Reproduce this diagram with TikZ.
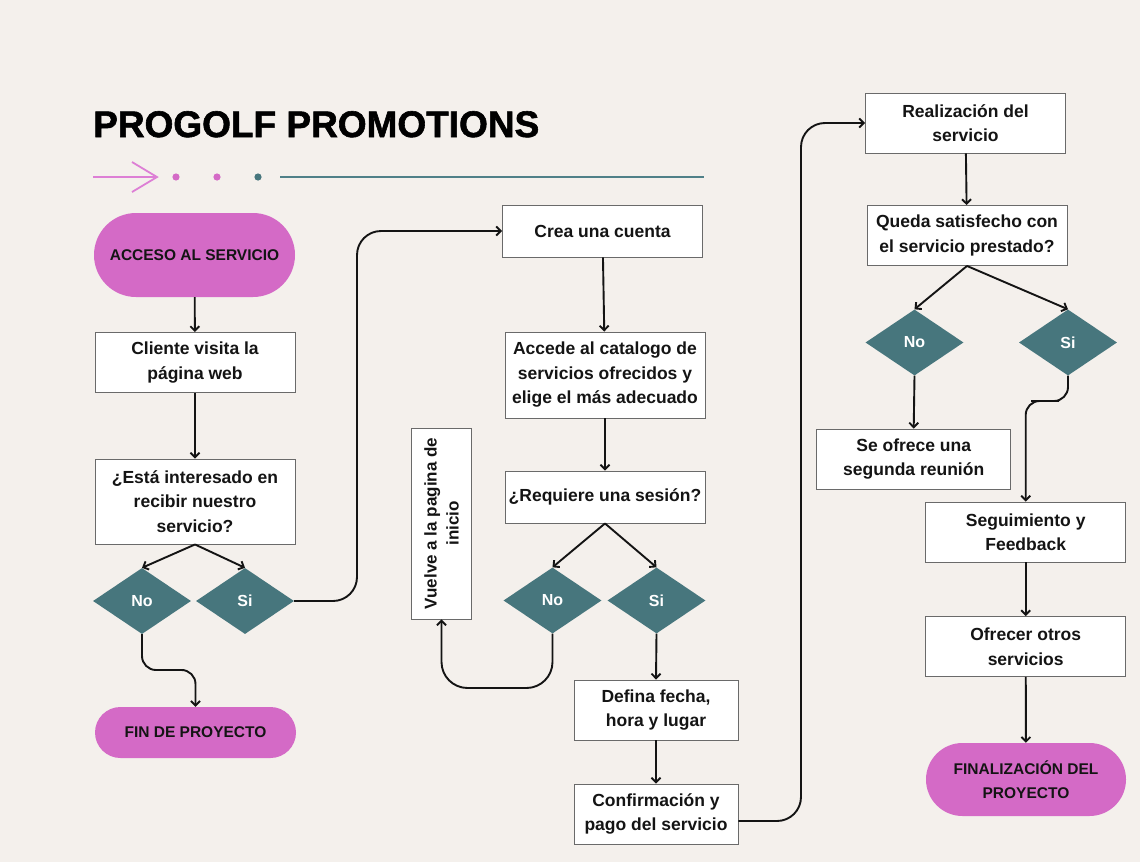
\documentclass[tikz,border=0pt]{standalone}
\usepackage{fontspec}
\setmainfont{Liberation Sans}
\newfontfamily\heavyfont{Liberation Sans}[UprightFont={* Bold},FakeBold=1.6]
\usetikzlibrary{shapes.geometric,shapes.misc,arrows.meta}
\definecolor{bg}{HTML}{F4F0EC}
\definecolor{pinkfill}{HTML}{D46AC6}
\definecolor{tealfill}{HTML}{47767D}
\definecolor{tealline}{HTML}{4F8088}
\definecolor{pinkline}{HTML}{DD7FD5}
\definecolor{boxedge}{HTML}{6A6A6A}
\definecolor{ink}{HTML}{141414}
\begin{document}
\begin{tikzpicture}[x=1pt,y=-1pt,
  stepbox/.style={draw=boxedge,line width=0.9pt,fill=white,inner sep=0pt,align=center,
    text=ink,font=\bfseries\fontsize{17.5}{24.5}\selectfont},
  pill/.style={rounded rectangle,fill=pinkfill,inner sep=0pt,align=center,
    text=ink,font=\bfseries\fontsize{15.5}{24}\selectfont},
  choice/.style={diamond,fill=tealfill,inner sep=0pt,minimum width=98pt,minimum height=66pt,
    text=white,font=\bfseries\fontsize{16}{16}\selectfont},
  conn/.style={draw=ink,line width=1.9pt,-{Straight Barb[length=4.5pt,width=9pt]}},
  deco/.style={line width=1.8pt}]
\useasboundingbox (0,0) rectangle (1140,862);
\fill[bg] (0,0) rectangle (1140,862);

% title and decoration
\node[anchor=base west,inner sep=0pt,text=black,font=\heavyfont\fontsize{37}{37}\selectfont] (title) at (93,137) {PROGOLF PROMOTIONS};
\coordinate (a0) at (93,177);
\coordinate (a1) at (157,177);
\coordinate (a2) at (132,162);
\coordinate (a3) at (132,192);
\draw[deco,draw=pinkline] (a0) -- (a1);
\draw[deco,draw=pinkline,line join=miter] (a2) -- (a1) -- (a3);
\fill[pinkfill] (176,177) circle (3.6pt);
\fill[pinkfill] (217,177) circle (3.6pt);
\fill[tealfill] (258,177) circle (3.6pt);
\coordinate (l0) at (280,177);
\coordinate (l1) at (704,177);
\draw[deco,draw=tealline] (l0) -- (l1);

% left column
\node[pill,minimum width=201pt,minimum height=84pt] (acc) at (194.5,255) {ACCESO AL SERVICIO};
\node[stepbox,minimum width=200pt,minimum height=60pt] (cli) at (195,362.5) {Cliente visita la\\página web};
\node[stepbox,minimum width=200pt,minimum height=85pt] (est) at (195,501.5) {¿Está interesado en\\recibir nuestro\\servicio?};
\node[choice] (no1) at (142,601) {No};
\node[choice] (si1) at (245,601) {Si};
\node[pill,minimum width=201pt,minimum height=51pt] (fin) at (195.5,732.5) {FIN DE PROYECTO};

% middle column
\node[stepbox,minimum width=200pt,minimum height=52pt] (crea) at (602.5,231) {Crea una cuenta};
\node[stepbox,minimum width=200pt,minimum height=86pt] (cat) at (605,375) {Accede al catalogo de\\servicios ofrecidos y\\elige el más adecuado};
\node[stepbox,minimum width=200pt,minimum height=52pt] (ses) at (605,497) {¿Requiere una sesión?};
\node[choice] (no2) at (552.5,600.5) {No};
\node[choice] (si2) at (656.5,600.5) {Si};
\node[stepbox,rotate=90,minimum width=191pt,minimum height=60pt,font=\bfseries\fontsize{17}{22}\selectfont] (vue) at (441.5,523.5) {Vuelve a la pagina de\\inicio};
\node[stepbox,minimum width=164pt,minimum height=60pt] (def) at (656,710) {Defina fecha,\\hora y lugar};
\node[stepbox,minimum width=164pt,minimum height=60pt] (conf) at (656,814) {Confirmación y\\pago del servicio};

% right column
\node[stepbox,minimum width=200pt,minimum height=60pt] (real) at (965.5,123) {Realización del\\servicio};
\node[stepbox,minimum width=200pt,minimum height=60pt] (sat) at (967,235.5) {Queda satisfecho con\\el servicio prestado?};
\node[choice] (no3) at (914.5,342.5) {No};
\node[choice] (si3) at (1068,342.5) {Si};
\node[stepbox,minimum width=194pt,minimum height=60pt] (seg2) at (913.7,459) {Se ofrece una\\segunda reunión};
\node[stepbox,minimum width=200pt,minimum height=60pt] (feed) at (1025.7,532) {Seguimiento y\\Feedback};
\node[stepbox,minimum width=200pt,minimum height=60pt] (otros) at (1025.7,646.5) {Ofrecer otros\\servicios};
\node[pill,minimum width=200pt,minimum height=73pt] (final) at (1026,779.5) {FINALIZACIÓN DEL\\PROYECTO};

% helper coordinates for bends
\coordinate (j0) at (170,670);
\coordinate (j1) at (357,400);
\coordinate (j2) at (500,688);
\coordinate (j3) at (801,500);
\coordinate (j4) at (1045,401);

% connectors
\draw[conn] (acc) -- (cli);
\draw[conn] (cli) -- (est);
\draw[conn] (est.south) -- (no1.north);
\draw[conn] (est.south) -- (si1.north);
\draw[conn,rounded corners=14pt] (no1.south) |- (j0) -| (fin.north);
\draw[conn,rounded corners=24pt] (si1.east) -| (j1) |- (crea.west);
\draw[conn] (crea) -- (cat);
\draw[conn] (cat) -- (ses);
\draw[conn] (ses.south) -- (no2.north);
\draw[conn] (ses.south) -- (si2.north);
\draw[conn,rounded corners=26pt] (no2.south) |- (j2) -| (vue.west);
\draw[conn] (si2.south) -- (def.north);
\draw[conn] (def) -- (conf);
\draw[conn,rounded corners=24pt] ([yshift=-7pt]conf.east) -| (j3) |- (real.west);
\draw[conn] (real) -- (sat);
\draw[conn] (sat.south) -- (no3.north);
\draw[conn] (sat.south) -- (si3.north);
\draw[conn] (no3.south) -- (seg2.north);
\draw[conn,rounded corners=14pt] (si3.south) |- (j4) -| (feed.north);
\draw[conn] (feed) -- (otros);
\draw[conn] (otros) -- (final);
\end{tikzpicture}
\end{document}
